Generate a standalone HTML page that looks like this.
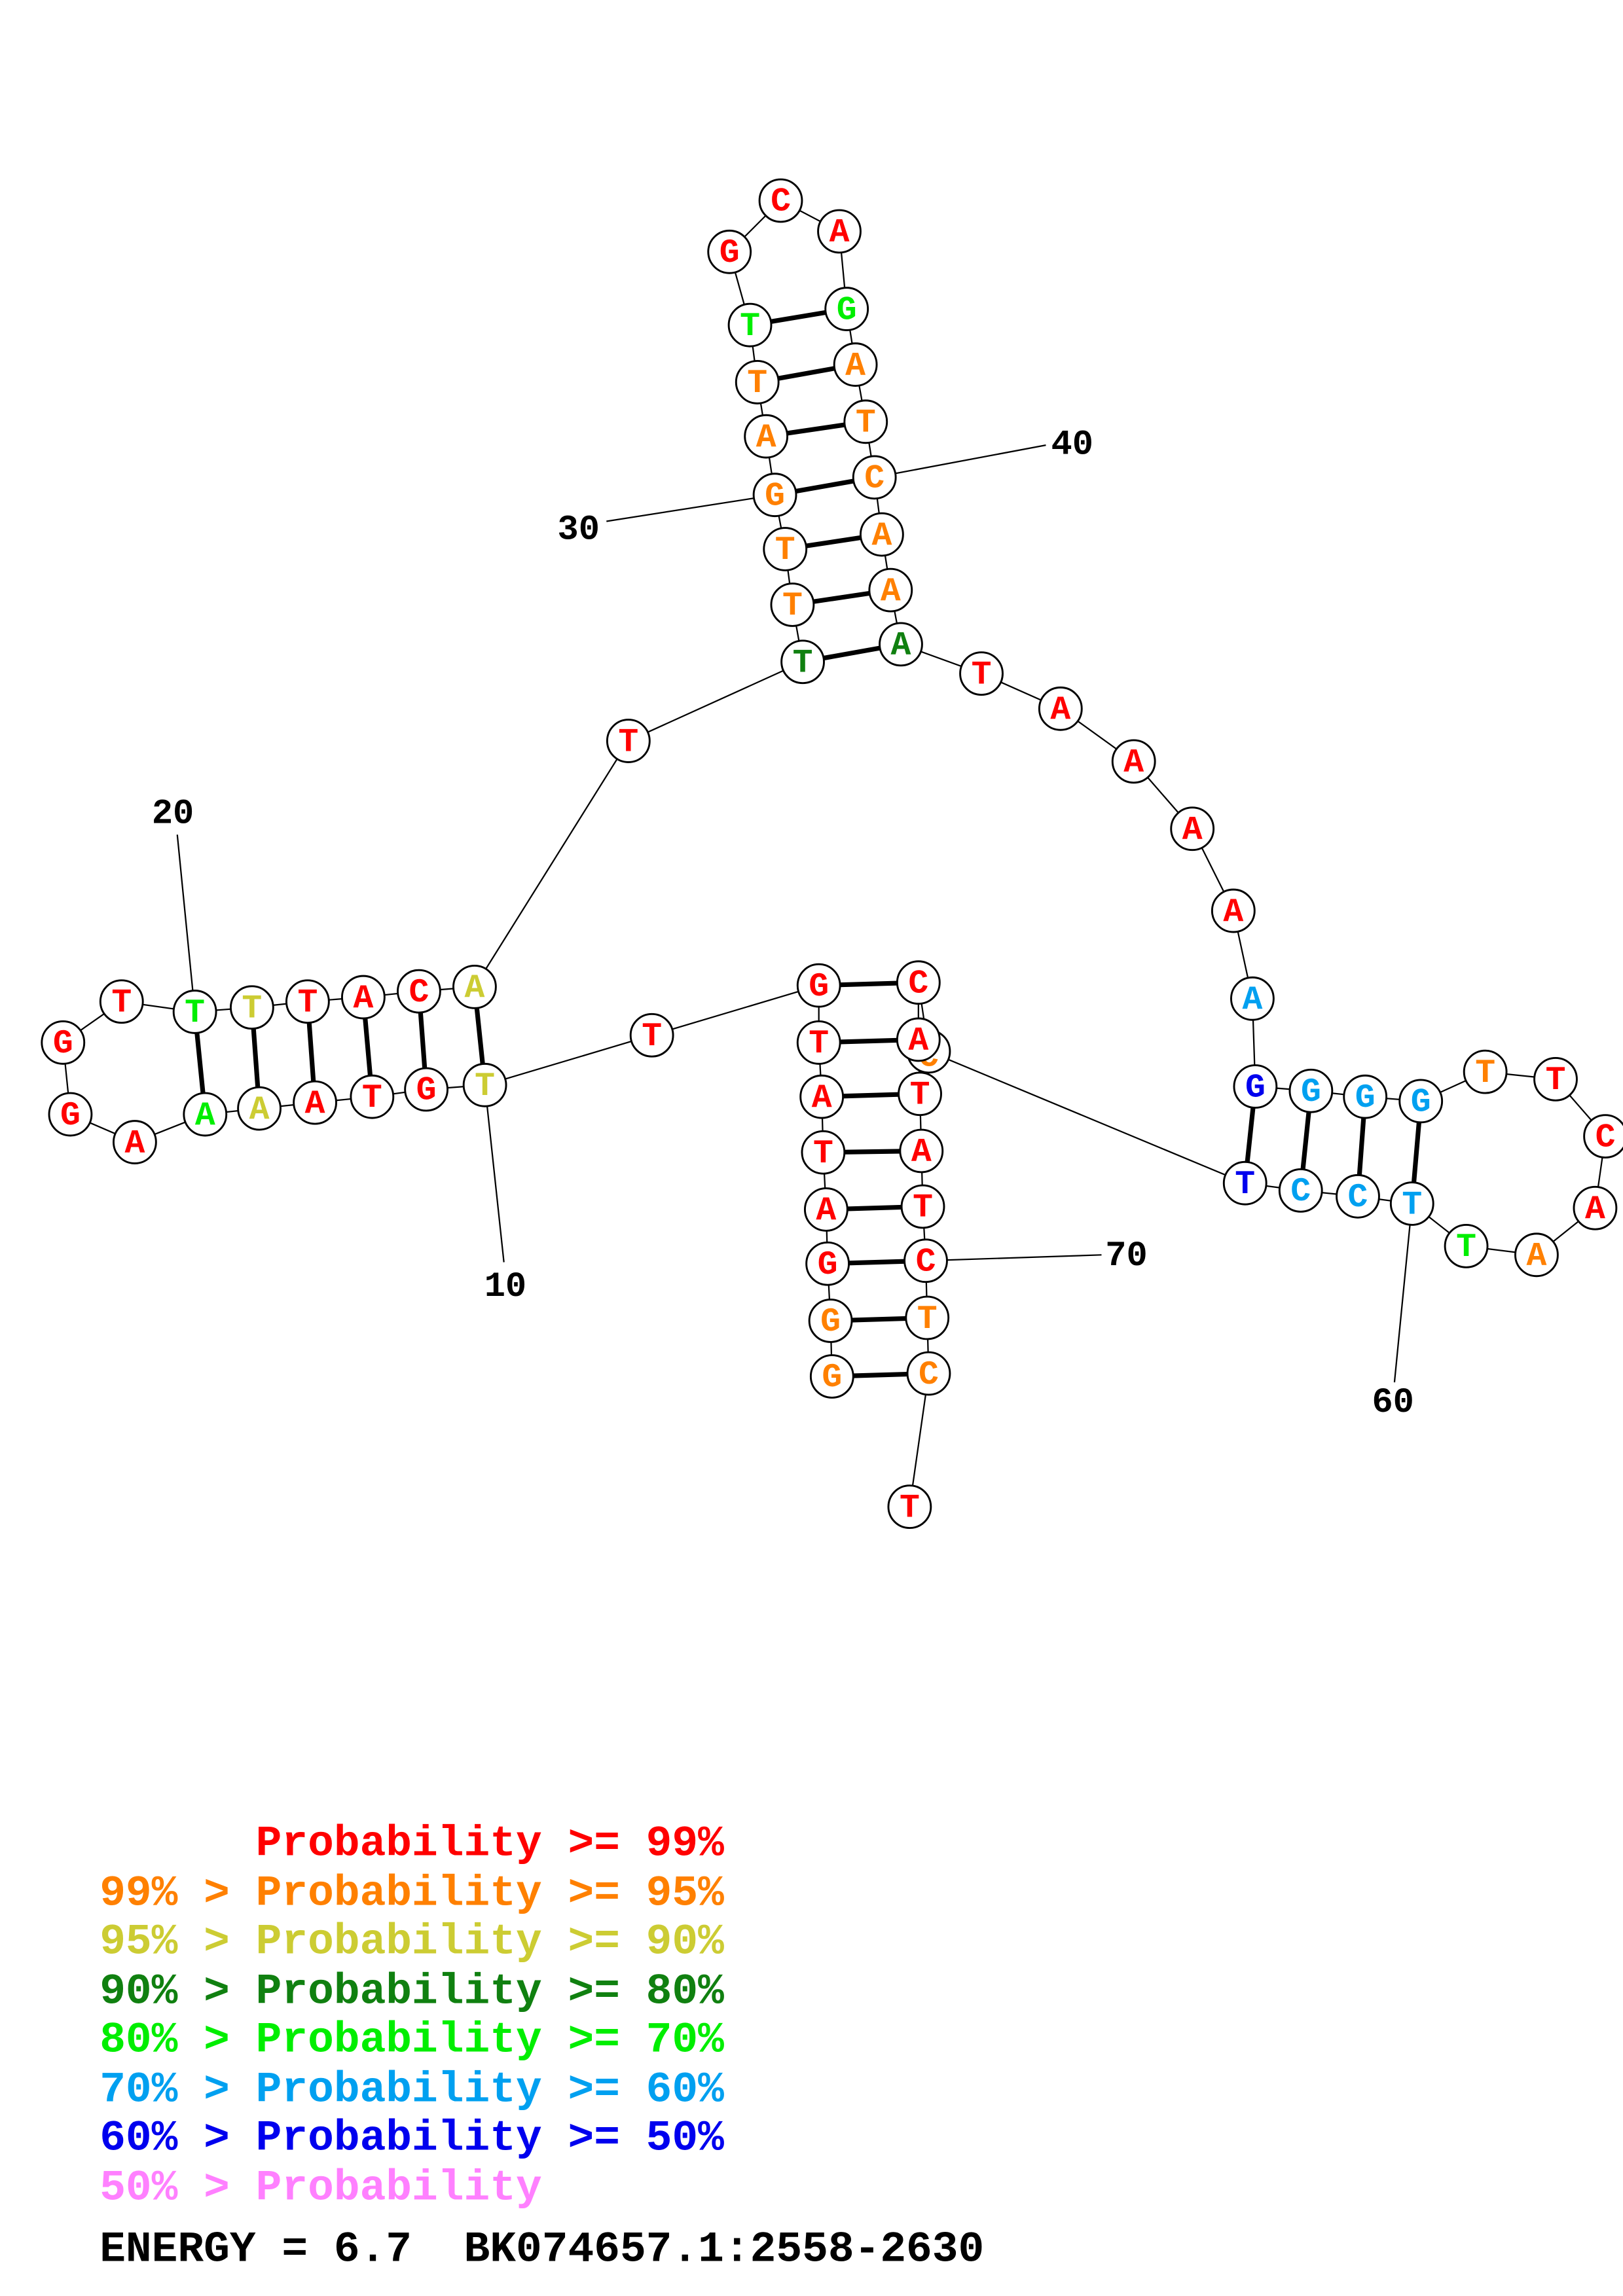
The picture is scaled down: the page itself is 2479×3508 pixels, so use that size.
<!DOCTYPE html>
<html><head><meta charset="utf-8"><style>html,body{margin:0;padding:0;background:#fff}svg{display:block}.pre text{white-space:pre}</style></head>
<body>
<svg xmlns="http://www.w3.org/2000/svg" width="2479" height="3508" viewBox="0 0 1108 1568">
<rect width="1108" height="1568" fill="#fff"/>
<g stroke="#000" stroke-width="1" fill="none">
<polyline points="568,940 567,902 565,863 564,826 562,787 561,749 559,712 559,673 445,707 331,741 291,744 254,749 215,753 177,757 140,761 92,780 48,761 43,712 83,684 133,691 172,688 210,684 248,681 286,677 324,674 429,506 548,452 541,413 536,375 529,338 523,298 517,261 512,222 498,172 533,137 573,158 578,211 584,249 591,288 597,326 602,365 608,403 615,440 670,460 724,484 774,520 814,566 842,622 855,682 857,742 895,745 932,749 970,752 1014,732 1062,737 1096,776 1089,825 1049,857 1001,851 964,822 927,817 888,813 850,808 634,718 627,671 627,710 628,747 629,786 630,824 632,861 633,900 634,938 621,1029"/>
<line x1="331" y1="741" x2="344" y2="862"/>
<line x1="133" y1="691" x2="121" y2="570"/>
<line x1="529" y1="338" x2="414" y2="356"/>
<line x1="597" y1="326" x2="714" y2="304"/>
<line x1="964" y1="822" x2="952" y2="944"/>
<line x1="632" y1="861" x2="752" y2="857"/>
</g>
<g stroke="#000" stroke-width="3.2">
<line x1="568" y1="940" x2="634" y2="938"/><line x1="567" y1="902" x2="633" y2="900"/><line x1="565" y1="863" x2="632" y2="861"/><line x1="564" y1="826" x2="630" y2="824"/><line x1="562" y1="787" x2="629" y2="786"/><line x1="561" y1="749" x2="628" y2="747"/><line x1="559" y1="712" x2="627" y2="710"/><line x1="559" y1="673" x2="627" y2="671"/>
<line x1="331" y1="741" x2="324" y2="674"/><line x1="291" y1="744" x2="286" y2="677"/><line x1="254" y1="749" x2="248" y2="681"/><line x1="215" y1="753" x2="210" y2="684"/><line x1="177" y1="757" x2="172" y2="688"/><line x1="140" y1="761" x2="133" y2="691"/>
<line x1="548" y1="452" x2="615" y2="440"/><line x1="541" y1="413" x2="608" y2="403"/><line x1="536" y1="375" x2="602" y2="365"/><line x1="529" y1="338" x2="597" y2="326"/><line x1="523" y1="298" x2="591" y2="288"/><line x1="517" y1="261" x2="584" y2="249"/><line x1="512" y1="222" x2="578" y2="211"/>
<line x1="857" y1="742" x2="850" y2="808"/><line x1="895" y1="745" x2="888" y2="813"/><line x1="932" y1="749" x2="927" y2="817"/><line x1="970" y1="752" x2="964" y2="822"/>
</g>
<g stroke="#000" stroke-width="1.3" fill="#fff">
<circle cx="634" cy="718" r="14.5"/>
</g>
<g font-family="Liberation Mono, monospace" font-weight="bold" font-size="23" text-anchor="middle" dominant-baseline="central">
<text x="634" y="722" fill="#ff8000">C</text>
</g>
<g stroke="#000" stroke-width="1.3" fill="#fff">
<circle cx="568" cy="940" r="14.5"/><circle cx="567" cy="902" r="14.5"/><circle cx="565" cy="863" r="14.5"/><circle cx="564" cy="826" r="14.5"/><circle cx="562" cy="787" r="14.5"/><circle cx="561" cy="749" r="14.5"/><circle cx="559" cy="712" r="14.5"/><circle cx="559" cy="673" r="14.5"/><circle cx="445" cy="707" r="14.5"/><circle cx="331" cy="741" r="14.5"/><circle cx="291" cy="744" r="14.5"/><circle cx="254" cy="749" r="14.5"/><circle cx="215" cy="753" r="14.5"/><circle cx="177" cy="757" r="14.5"/><circle cx="140" cy="761" r="14.5"/><circle cx="92" cy="780" r="14.5"/><circle cx="48" cy="761" r="14.5"/><circle cx="43" cy="712" r="14.5"/><circle cx="83" cy="684" r="14.5"/><circle cx="133" cy="691" r="14.5"/><circle cx="172" cy="688" r="14.5"/><circle cx="210" cy="684" r="14.5"/><circle cx="248" cy="681" r="14.5"/><circle cx="286" cy="677" r="14.5"/><circle cx="324" cy="674" r="14.5"/><circle cx="429" cy="506" r="14.5"/><circle cx="548" cy="452" r="14.5"/><circle cx="541" cy="413" r="14.5"/><circle cx="536" cy="375" r="14.5"/><circle cx="529" cy="338" r="14.5"/><circle cx="523" cy="298" r="14.5"/><circle cx="517" cy="261" r="14.5"/><circle cx="512" cy="222" r="14.5"/><circle cx="498" cy="172" r="14.5"/><circle cx="533" cy="137" r="14.5"/><circle cx="573" cy="158" r="14.5"/><circle cx="578" cy="211" r="14.5"/><circle cx="584" cy="249" r="14.5"/><circle cx="591" cy="288" r="14.5"/><circle cx="597" cy="326" r="14.5"/><circle cx="602" cy="365" r="14.5"/><circle cx="608" cy="403" r="14.5"/><circle cx="615" cy="440" r="14.5"/><circle cx="670" cy="460" r="14.5"/><circle cx="724" cy="484" r="14.5"/><circle cx="774" cy="520" r="14.5"/><circle cx="814" cy="566" r="14.5"/><circle cx="842" cy="622" r="14.5"/><circle cx="855" cy="682" r="14.5"/><circle cx="857" cy="742" r="14.5"/><circle cx="895" cy="745" r="14.5"/><circle cx="932" cy="749" r="14.5"/><circle cx="970" cy="752" r="14.5"/><circle cx="1014" cy="732" r="14.5"/><circle cx="1062" cy="737" r="14.5"/><circle cx="1096" cy="776" r="14.5"/><circle cx="1089" cy="825" r="14.5"/><circle cx="1049" cy="857" r="14.5"/><circle cx="1001" cy="851" r="14.5"/><circle cx="964" cy="822" r="14.5"/><circle cx="927" cy="817" r="14.5"/><circle cx="888" cy="813" r="14.5"/><circle cx="850" cy="808" r="14.5"/><circle cx="627" cy="671" r="14.5"/><circle cx="627" cy="710" r="14.5"/><circle cx="628" cy="747" r="14.5"/><circle cx="629" cy="786" r="14.5"/><circle cx="630" cy="824" r="14.5"/><circle cx="632" cy="861" r="14.5"/><circle cx="633" cy="900" r="14.5"/><circle cx="634" cy="938" r="14.5"/><circle cx="621" cy="1029" r="14.5"/>
</g>
<g font-family="Liberation Mono, monospace" font-weight="bold" font-size="23" text-anchor="middle" dominant-baseline="central">
<text x="568" y="941" fill="#ff8000">G</text><text x="567" y="903" fill="#ff8000">G</text><text x="565" y="864" fill="#f00">G</text><text x="564" y="827" fill="#f00">A</text><text x="562" y="788" fill="#f00">T</text><text x="561" y="750" fill="#f00">A</text><text x="559" y="713" fill="#f00">T</text><text x="559" y="674" fill="#f00">G</text><text x="445" y="708" fill="#f00">T</text><text x="331" y="742" fill="#cccc33">T</text><text x="291" y="745" fill="#f00">G</text><text x="254" y="750" fill="#f00">T</text><text x="215" y="754" fill="#f00">A</text><text x="177" y="758" fill="#cccc33">A</text><text x="140" y="762" fill="#00ee00">A</text><text x="92" y="781" fill="#f00">A</text><text x="48" y="762" fill="#f00">G</text><text x="43" y="713" fill="#f00">G</text><text x="83" y="685" fill="#f00">T</text><text x="133" y="692" fill="#00ee00">T</text><text x="172" y="689" fill="#cccc33">T</text><text x="210" y="685" fill="#f00">T</text><text x="248" y="682" fill="#f00">A</text><text x="286" y="678" fill="#f00">C</text><text x="324" y="675" fill="#cccc33">A</text><text x="429" y="507" fill="#f00">T</text><text x="548" y="453" fill="#108010">T</text><text x="541" y="414" fill="#ff8000">T</text><text x="536" y="376" fill="#ff8000">T</text><text x="529" y="339" fill="#ff8000">G</text><text x="523" y="299" fill="#ff8000">A</text><text x="517" y="262" fill="#ff8000">T</text><text x="512" y="223" fill="#00ee00">T</text><text x="498" y="173" fill="#f00">G</text><text x="533" y="138" fill="#f00">C</text><text x="573" y="159" fill="#f00">A</text><text x="578" y="212" fill="#00ee00">G</text><text x="584" y="250" fill="#ff8000">A</text><text x="591" y="289" fill="#ff8000">T</text><text x="597" y="327" fill="#ff8000">C</text><text x="602" y="366" fill="#ff8000">A</text><text x="608" y="404" fill="#ff8000">A</text><text x="615" y="441" fill="#108010">A</text><text x="670" y="461" fill="#f00">T</text><text x="724" y="485" fill="#f00">A</text><text x="774" y="521" fill="#f00">A</text><text x="814" y="567" fill="#f00">A</text><text x="842" y="623" fill="#f00">A</text><text x="855" y="683" fill="#00a0f0">A</text><text x="857" y="743" fill="#0000ee">G</text><text x="895" y="746" fill="#00a0f0">G</text><text x="932" y="750" fill="#00a0f0">G</text><text x="970" y="753" fill="#00a0f0">G</text><text x="1014" y="733" fill="#ff8000">T</text><text x="1062" y="738" fill="#f00">T</text><text x="1096" y="777" fill="#f00">C</text><text x="1089" y="826" fill="#f00">A</text><text x="1049" y="858" fill="#ff8000">A</text><text x="1001" y="852" fill="#00ee00">T</text><text x="964" y="823" fill="#00a0f0">T</text><text x="927" y="818" fill="#00a0f0">C</text><text x="888" y="814" fill="#00a0f0">C</text><text x="850" y="809" fill="#0000ee">T</text><text x="627" y="672" fill="#f00">C</text><text x="627" y="711" fill="#f00">A</text><text x="628" y="748" fill="#f00">T</text><text x="629" y="787" fill="#f00">A</text><text x="630" y="825" fill="#f00">T</text><text x="632" y="862" fill="#f00">C</text><text x="633" y="901" fill="#ff8000">T</text><text x="634" y="939" fill="#ff8000">C</text><text x="621" y="1030" fill="#f00">T</text>
</g>
<g font-family="Liberation Mono, monospace" font-weight="bold" font-size="24" fill="#000" text-anchor="middle" dominant-baseline="central">
<text x="345" y="879">10</text><text x="118" y="556">20</text><text x="395" y="362">30</text><text x="732" y="304">40</text><text x="951" y="958">60</text><text x="769" y="858">70</text>
</g>
<g class="pre" font-family="Liberation Mono, monospace" font-weight="bold" font-size="29.6">
<text x="68" y="1267" fill="#f00">      Probability &gt;= 99%</text>
<text x="68" y="1301" fill="#ff8000">99% &gt; Probability &gt;= 95%</text>
<text x="68" y="1334" fill="#cccc33">95% &gt; Probability &gt;= 90%</text>
<text x="68" y="1368" fill="#108010">90% &gt; Probability &gt;= 80%</text>
<text x="68" y="1401" fill="#00ee00">80% &gt; Probability &gt;= 70%</text>
<text x="68" y="1435" fill="#00a0f0">70% &gt; Probability &gt;= 60%</text>
<text x="68" y="1468" fill="#0000ee">60% &gt; Probability &gt;= 50%</text>
<text x="68" y="1502" fill="#ff80ff">50% &gt; Probability</text>
<text x="68" y="1544" fill="#000">ENERGY = 6.7  BK074657.1:2558-2630</text>
</g>
</svg>
</body></html>
